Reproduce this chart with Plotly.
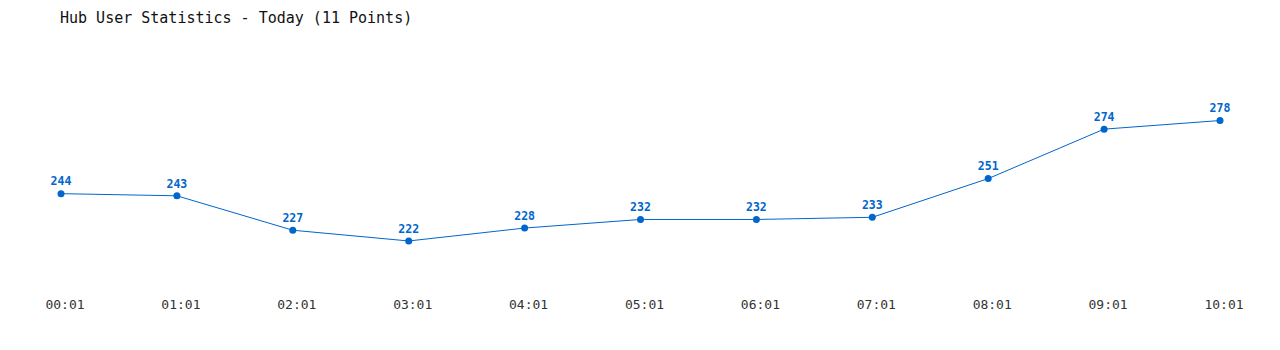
import plotly.graph_objects as go

times = ["00:01", "01:01", "02:01", "03:01", "04:01", "05:01", "06:01", "07:01", "08:01", "09:01", "10:01"]
users = [244, 243, 227, 222, 228, 232, 232, 233, 251, 274, 278]

blue = "#0066cc"
mono = "DejaVu Sans Mono, Liberation Mono, monospace"

fig = go.Figure()
fig.add_trace(go.Scatter(
    x=list(range(len(times))), y=users,
    mode="lines+markers+text",
    line=dict(color=blue, width=1),
    marker=dict(color=blue, size=7),
    text=[str(v) for v in users],
    textposition="top center",
    textfont=dict(family=mono, size=11.5, color=blue, weight="bold"),
    cliponaxis=False,
    hoverinfo="skip",
))

fig.update_layout(
    width=1280, height=350,
    margin=dict(l=61, r=60, t=50, b=60),
    paper_bgcolor="white", plot_bgcolor="white",
    showlegend=False,
    title=dict(
        text="Hub User Statistics - Today (11 Points)",
        font=dict(family=mono, size=15, color="#111"),
        x=60/1280, xanchor="left", xref="container",
        y=1-18/350, yanchor="middle", yref="container",
    ),
    xaxis=dict(
        range=[0, 10],
        tickmode="array", tickvals=list(range(len(times))), ticktext=times,
        showgrid=False, zeroline=False, showline=False, ticks="",
        tickfont=dict(family=mono, size=13, color="#333"),
        ticklabelshift=4, ticklabelstandoff=5,
    ),
    yaxis=dict(
        range=[199.2, 310.8],
        showgrid=False, zeroline=False, showline=False, showticklabels=False, ticks="",
    ),
)

fig.write_html("out.html")
